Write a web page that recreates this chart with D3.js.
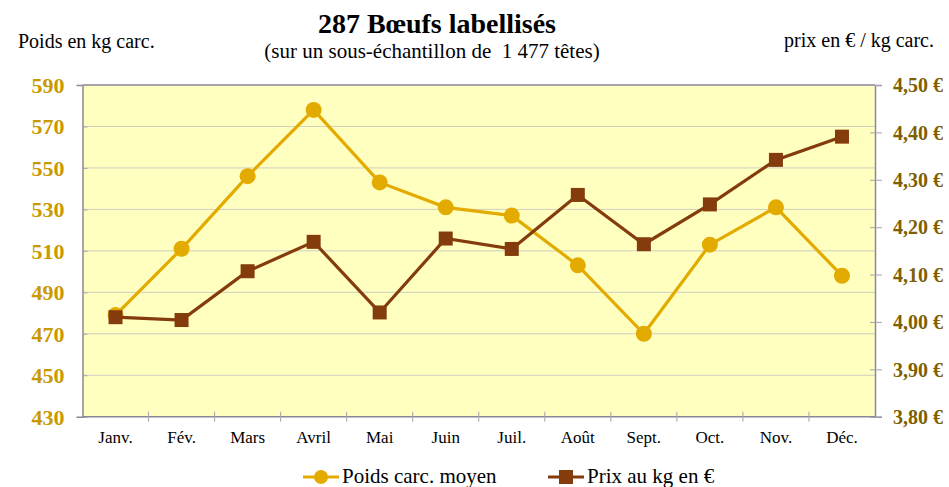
<!DOCTYPE html>
<html>
<head>
<meta charset="utf-8">
<script src="https://cdn.jsdelivr.net/npm/d3@7"></script>
<style>
  html, body { margin: 0; padding: 0; background: #ffffff; }
  svg { display: block; }
  svg text { font-family: "Liberation Serif", "Times New Roman", serif; }
</style>
</head>
<body>
<svg id="chart" width="949" height="487"></svg>
<script>
// Monthly data: mean carcass weight (kg) and price per kg (€)
const months = ["Janv.", "Fév.", "Mars", "Avril", "Mai", "Juin", "Juil.", "Août", "Sept.", "Oct.", "Nov.", "Déc."];
const poids = [479, 511, 546, 578, 543, 531, 527, 503, 470, 513, 531, 498];
const prix = [4.01, 4.004, 4.107, 4.169, 4.02, 4.176, 4.154, 4.268, 4.164, 4.248, 4.342, 4.391];
const poidsTicks = [430, 450, 470, 490, 510, 530, 550, 570, 590];
const prixTicks = [3.8, 3.9, 4.0, 4.1, 4.2, 4.3, 4.4, 4.5];

const FONT = "Liberation Serif, Times New Roman, serif";
const svg = d3.select("#chart");
const m = { left: 82.5, right: 875, top: 85, bottom: 416.7 };

const x = d3.scaleBand().domain(months).range([m.left, m.right]);
const yL = d3.scaleLinear().domain([430, 590]).range([m.bottom, m.top]);
const yR = d3.scaleLinear().domain([3.8, 4.5]).range([m.bottom, m.top]);

const colPoids = "#E3AB00";
const colPrix = "#843C0C";
const axisCol = "#8E8698";

// plot background
svg.append("rect")
  .attr("x", m.left).attr("y", m.top)
  .attr("width", m.right - m.left).attr("height", m.bottom - m.top)
  .attr("fill", "#FFFFC0");

// horizontal gridlines on the weight scale
svg.append("g").selectAll("line")
  .data(poidsTicks.filter(t => t > 430 && t < 590))
  .join("line")
  .attr("x1", m.left).attr("x2", m.right)
  .attr("y1", d => yL(d)).attr("y2", d => yL(d))
  .attr("stroke", "#CFCFC0").attr("stroke-width", 1);

// frame top line
svg.append("line")
  .attr("x1", m.left).attr("x2", m.right)
  .attr("y1", m.top).attr("y2", m.top)
  .attr("stroke", axisCol).attr("stroke-width", 1.5);

// left axis
const gL = svg.append("g").attr("transform", `translate(${m.left},0)`)
  .call(d3.axisLeft(yL).tickValues(poidsTicks).tickSize(6).tickFormat(d3.format("d")));
gL.attr("font-family", FONT);
gL.select(".domain").attr("stroke", axisCol).attr("stroke-width", 1.5);
gL.selectAll(".tick line").attr("stroke", "#A8A0B0").attr("x2", 5);
gL.selectAll(".tick text")
  .attr("x", -18).attr("dy", "0.34em")
  .attr("fill", "#C99A00").attr("font-size", 22).attr("font-weight", "bold");

// right axis
const fmtPrix = d => d.toFixed(2).replace(".", ",") + " €";
const gR = svg.append("g").attr("transform", `translate(${m.right},0)`)
  .call(d3.axisRight(yR).tickValues(prixTicks).tickSize(7).tickFormat(fmtPrix));
gR.attr("font-family", FONT);
gR.select(".domain").attr("stroke", axisCol).attr("stroke-width", 1.5);
gR.selectAll(".tick line").attr("stroke", "#A8A0B0").attr("x1", -5);
gR.selectAll(".tick text")
  .attr("x", 18).attr("dy", "0.34em")
  .attr("fill", "#7F6000").attr("font-size", 20).attr("font-weight", "bold");

// bottom axis with ticks between categories
const gB = svg.append("g").attr("transform", `translate(0,${m.bottom})`);
gB.append("line")
  .attr("x1", m.left).attr("x2", m.right)
  .attr("stroke", axisCol).attr("stroke-width", 1.5);
gB.selectAll("line.sep")
  .data(months.slice(1))
  .join("line").attr("class", "sep")
  .attr("x1", d => x(d)).attr("x2", d => x(d))
  .attr("y1", -5).attr("y2", 5)
  .attr("stroke", "#A8A0B0");
gB.selectAll("text")
  .data(months)
  .join("text")
  .attr("x", d => x(d) + x.bandwidth() / 2)
  .attr("y", 26.5)
  .attr("text-anchor", "middle")
  .attr("font-size", 17)
  .attr("fill", "#000")
  .text(d => d);

const cx = d => x(d) + x.bandwidth() / 2;

// weight series
svg.append("path")
  .datum(poids)
  .attr("fill", "none").attr("stroke", colPoids).attr("stroke-width", 3.2)
  .attr("d", d3.line().x((d, i) => cx(months[i])).y(d => yL(d)));
svg.append("g").selectAll("circle")
  .data(poids).join("circle")
  .attr("cx", (d, i) => cx(months[i])).attr("cy", d => yL(d))
  .attr("r", 8).attr("fill", colPoids);

// price series
svg.append("path")
  .datum(prix)
  .attr("fill", "none").attr("stroke", colPrix).attr("stroke-width", 3.2)
  .attr("d", d3.line().x((d, i) => cx(months[i])).y(d => yR(d)));
svg.append("g").selectAll("rect")
  .data(prix).join("rect")
  .attr("x", (d, i) => cx(months[i]) - 7).attr("y", d => yR(d) - 7)
  .attr("width", 14).attr("height", 14).attr("fill", colPrix);

// titles
svg.append("text")
  .attr("x", 437).attr("y", 33).attr("text-anchor", "middle")
  .attr("font-size", 28).attr("font-weight", "bold")
  .text("287 Bœufs labellisés");
svg.append("text")
  .attr("x", 432).attr("y", 58).attr("text-anchor", "middle")
  .attr("font-size", 21)
  .style("white-space", "pre")
  .text("(sur un sous-échantillon de  1 477 têtes)");
svg.append("text")
  .attr("x", 18).attr("y", 48)
  .attr("font-size", 20)
  .text("Poids en kg carc.");
svg.append("text")
  .attr("x", 934).attr("y", 47).attr("text-anchor", "end")
  .attr("font-size", 20)
  .text("prix en € / kg carc.");

// legend
const legend = [
  { label: "Poids carc. moyen", color: colPoids, shape: "circle", x: 303 },
  { label: "Prix au kg en €", color: colPrix, shape: "square", x: 548 }
];
const lg = svg.append("g").selectAll("g").data(legend).join("g")
  .attr("transform", d => `translate(${d.x},477)`);
lg.append("line")
  .attr("x1", 0).attr("x2", 36)
  .attr("stroke", d => d.color).attr("stroke-width", 3.2);
lg.filter(d => d.shape === "circle").append("circle")
  .attr("cx", 18).attr("r", 7).attr("fill", d => d.color);
lg.filter(d => d.shape === "square").append("rect")
  .attr("x", 11).attr("y", -7).attr("width", 14).attr("height", 14).attr("fill", d => d.color);
lg.append("text")
  .attr("x", 39).attr("y", 6)
  .attr("font-size", 21)
  .text(d => d.label);
</script>
</body>
</html>
